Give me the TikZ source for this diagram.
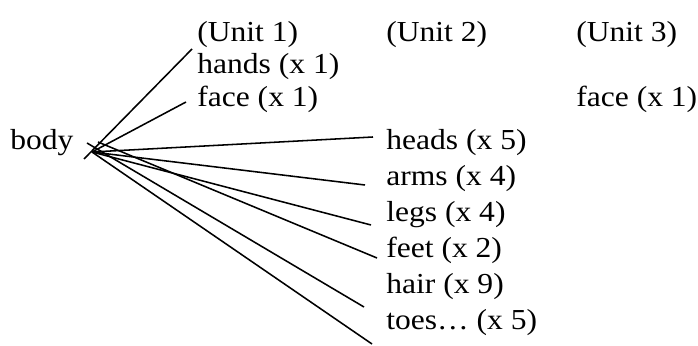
\documentclass[tikz,border=0pt]{standalone}
\usepackage{fontspec}
\setmainfont[FakeStretch=1.09]{Liberation Serif}

\begin{document}
\begin{tikzpicture}[
    x=0.025cm, y=-0.025cm,
    word/.style={anchor=base west, inner sep=0pt, font=\fontsize{20.6}{24}\selectfont},
    link/.style={line width=1.1pt}
]
\useasboundingbox (0,0) rectangle (698,346);

% column heads
\node[word] (unit1) at (197,41.7) {(Unit 1)};
\node[word] (unit2) at (386,41.7) {(Unit 2)};
\node[word] (unit3) at (576,41.7) {(Unit 3)};

% unit 1
\node[word] (hands) at (197,73.5) {hands (x 1)};
\node[word] (face) at (197,106.5) {face (x 1)};

% unit 3
\node[word] (face3) at (576,106.5) {face (x 1)};

% root
\node[word] (body) at (10,150) {body};

% unit 2
\node[word] (heads) at (386,150) {heads (x 5)};
\node[word] (arms) at (386,186) {arms (x 4)};
\node[word] (legs) at (386,222) {legs (x 4)};
\node[word] (feet) at (386,258) {feet (x 2)};
\node[word] (hair) at (386,294) {hair (x 9)};
\node[word] (toes) at (386,330) {toes… (x 5)};

% where the lines start, just right of body
\coordinate (hub) at (92,152);
\coordinate (hub-low) at (84,159);
\coordinate (hub-high) at (98,142);
\coordinate (hub-left) at (87,143);

% where the lines stop, just left of the words
\coordinate (to-hands) at (192,49);
\coordinate (to-face) at (186,102);
\coordinate (to-heads) at (373,137);
\coordinate (to-arms) at (365,185);
\coordinate (to-legs) at (371,225);
\coordinate (to-feet) at (377,258);
\coordinate (to-hair) at (364,307);
\coordinate (to-toes) at (372,344);

\draw[link] (hub-low) -- (to-hands);
\draw[link] (hub) -- (to-face);
\draw[link] (hub) -- (to-heads);
\draw[link] (hub) -- (to-arms);
\draw[link] (hub) -- (to-legs);
\draw[link] (hub-high) -- (to-feet);
\draw[link] (hub-left) -- (to-hair);
\draw[link] (hub) -- (to-toes);
\end{tikzpicture}
\end{document}
